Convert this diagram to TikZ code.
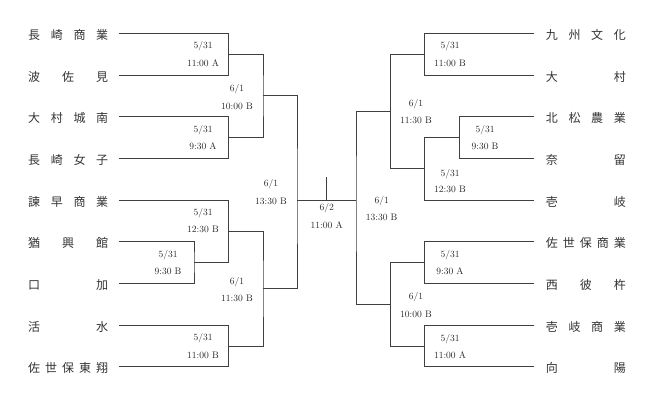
\documentclass[tikz,border=0pt]{standalone}
\usepackage{fontspec}
\newfontfamily\jp{Noto Sans CJK JP}
\newcommand{\gp}{\hfill}
\begin{document}
\begin{tikzpicture}[x=1pt,y=-1pt,
  team/.style={inner sep=0pt,font=\jp\fontsize{12}{12}\selectfont,text=black!80},
  lbl/.style={inner sep=0pt,font=\fontsize{9.5}{9.5}\selectfont,text=black!85,text height=6.8pt,text depth=0pt},
  br/.style={draw=black!75,line width=0.6pt}]
\useasboundingbox (0,0) rectangle (654,401);
% left teams
\node[team,anchor=west] (L1) at (28,34.8) {\makebox[80pt][s]{長\gp{}崎\gp{}商\gp{}業}};
\node[team,anchor=west] (L2) at (28,76.5) {\makebox[80pt][s]{波\gp{}佐\gp{}見}};
\node[team,anchor=west] (L3) at (28,118.2) {\makebox[80pt][s]{大\gp{}村\gp{}城\gp{}南}};
\node[team,anchor=west] (L4) at (28,159.8) {\makebox[80pt][s]{長\gp{}崎\gp{}女\gp{}子}};
\node[team,anchor=west] (L5) at (28,201.5) {\makebox[80pt][s]{諫\gp{}早\gp{}商\gp{}業}};
\node[team,anchor=west] (L6) at (28,243.2) {\makebox[80pt][s]{猶\gp{}興\gp{}館}};
\node[team,anchor=west] (L7) at (28,284.8) {\makebox[80pt][s]{口\gp{}加}};
\node[team,anchor=west] (L8) at (28,326.5) {\makebox[80pt][s]{活\gp{}水}};
\node[team,anchor=west] (L9) at (28,368.2) {\makebox[80pt][s]{佐\gp{}世\gp{}保\gp{}東\gp{}翔}};
% right teams
\node[team,anchor=west] (R1) at (545.7,34.8) {\makebox[80pt][s]{九\gp{}州\gp{}文\gp{}化}};
\node[team,anchor=west] (R2) at (545.7,76.5) {\makebox[80pt][s]{大\gp{}村}};
\node[team,anchor=west] (R3) at (545.7,118.2) {\makebox[80pt][s]{北\gp{}松\gp{}農\gp{}業}};
\node[team,anchor=west] (R4) at (545.7,159.8) {\makebox[80pt][s]{奈\gp{}留}};
\node[team,anchor=west] (R5) at (545.7,201.5) {\makebox[80pt][s]{壱\gp{}岐}};
\node[team,anchor=west] (R6) at (545.7,243.2) {\makebox[80pt][s]{佐\gp{}世\gp{}保\gp{}商\gp{}業}};
\node[team,anchor=west] (R7) at (545.7,284.8) {\makebox[80pt][s]{西\gp{}彼\gp{}杵}};
\node[team,anchor=west] (R8) at (545.7,326.5) {\makebox[80pt][s]{壱\gp{}岐\gp{}商\gp{}業}};
\node[team,anchor=west] (R9) at (545.7,368.2) {\makebox[80pt][s]{向\gp{}陽}};
% line starts
\foreach \i/\y in {1/33.3,2/75,3/116.7,4/158.3,5/200,6/241.7,7/283.3,8/325,9/366.7}{
  \coordinate (l\i) at (119,\y);
  \coordinate (r\i) at (534.3,\y);
}
% left junctions
\coordinate (J1) at (228.5,54.2);
\coordinate (J2) at (228.5,137.5);
\coordinate (Jf) at (194,262.5);
\coordinate (J3) at (228.5,231.25);
\coordinate (J4) at (228.5,345.8);
\coordinate (K1) at (263,95.8);
\coordinate (K2) at (263,288.5);
\coordinate (S1) at (297,200);
% right junctions
\coordinate (P1) at (424.3,54.2);
\coordinate (Pf) at (459.7,137.5);
\coordinate (P2) at (424.3,168.75);
\coordinate (P3) at (424.3,262.5);
\coordinate (P4) at (424.3,345.8);
\coordinate (Q1) at (390.7,111.5);
\coordinate (Q2) at (390.7,304.2);
\coordinate (S2) at (356,200);
\coordinate (T) at (326.7,177);
% left bracket
\draw[br] (l1) -| (J1) |- (l2);
\draw[br] (l3) -| (J2) |- (l4);
\draw[br] (l6) -| (Jf) |- (l7);
\draw[br] (l5) -| (J3) |- (Jf);
\draw[br] (l8) -| (J4) |- (l9);
\draw[br] (J1) -| (K1) |- (J2);
\draw[br] (J3) -| (K2) |- (J4);
\draw[br] (K1) -| (S1) |- (K2);
% right bracket
\draw[br] (r1) -| (P1) |- (r2);
\draw[br] (r3) -| (Pf) |- (r4);
\draw[br] (Pf) -| (P2) |- (r5);
\draw[br] (r6) -| (P3) |- (r7);
\draw[br] (r8) -| (P4) |- (r9);
\draw[br] (P1) -| (Q1) |- (P2);
\draw[br] (P3) -| (Q2) |- (P4);
\draw[br] (Q1) -| (S2) |- (Q2);
% final
\draw[br] (S1) -- (S2);
\draw[br] (T) -- (T |- S1);
% labels left
\node[lbl] (ad) at (203,45) {5/31};   \node[lbl] (at) at (203,63) {11:00 A};
\node[lbl] (bd) at (237,88) {6/1};    \node[lbl] (bt) at (237,106) {10:00 B};
\node[lbl] (cd) at (203,129) {5/31};  \node[lbl] (ct) at (203,146.5) {9:30 A};
\node[lbl] (dd) at (271,183.5) {6/1}; \node[lbl] (dt) at (271,201.5) {13:30 B};
\node[lbl] (ed) at (203,211.7) {5/31};\node[lbl] (et) at (203,228.7) {12:30 B};
\node[lbl] (fd) at (168,254.3) {5/31};\node[lbl] (ft) at (168,271) {9:30 B};
\node[lbl] (gd) at (237,280.7) {6/1}; \node[lbl] (gt) at (237,297.7) {11:30 B};
\node[lbl] (hd) at (203,337) {5/31};  \node[lbl] (ht) at (203,355.3) {11:00 B};
% center
\node[lbl] (zd) at (326.7,207.3) {6/2};\node[lbl] (zt) at (326.7,225) {11:00 A};
% labels right
\node[lbl] (id) at (450,45) {5/31};   \node[lbl] (it) at (450,63) {11:00 B};
\node[lbl] (jd) at (416,103) {6/1};   \node[lbl] (jt) at (416,120) {11:30 B};
\node[lbl] (kd) at (485,129) {5/31};  \node[lbl] (kt) at (485,146.5) {9:30 B};
\node[lbl] (ld) at (450,172.7) {5/31};\node[lbl] (lt) at (450,189.3) {12:30 B};
\node[lbl] (md) at (381.7,200) {6/1}; \node[lbl] (mt) at (381.7,217.3) {13:30 B};
\node[lbl] (nd) at (450,254.3) {5/31};\node[lbl] (nt) at (450,271) {9:30 A};
\node[lbl] (od) at (416,295.7) {6/1}; \node[lbl] (ot) at (416,313.7) {10:00 B};
\node[lbl] (pd) at (450,337.7) {5/31};\node[lbl] (pt) at (450,355) {11:00 A};
\end{tikzpicture}
\end{document}
